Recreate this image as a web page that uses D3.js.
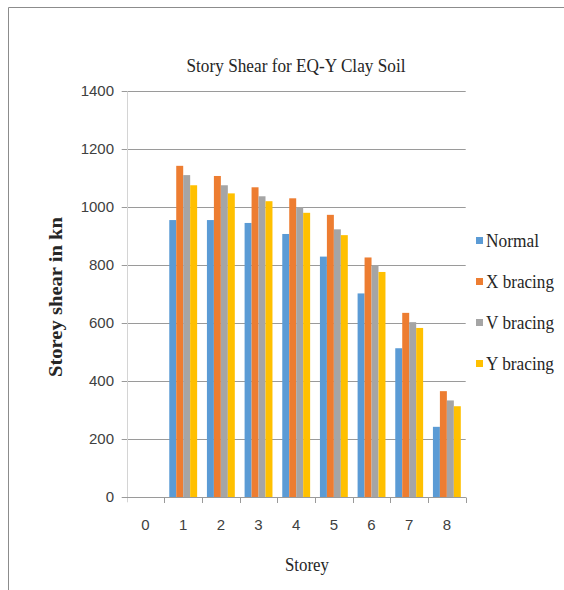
<!DOCTYPE html>
<html>
<head>
<meta charset="utf-8">
<script src="https://cdn.jsdelivr.net/npm/d3@7"></script>
<style>
  html, body { margin: 0; padding: 0; background: #fff; }
  svg { display: block; }
</style>
</head>
<body>
<svg id="chart" width="564" height="590"></svg>
<script>
// Storey shear (kN) per storey for each bracing type, EQ-Y on clay soil
const storeys = ["0", "1", "2", "3", "4", "5", "6", "7", "8"];
const seriesNames = ["Normal", "X bracing", "V bracing", "Y bracing"];
const normal   = [null, 956, 956, 946, 908, 830, 703, 514, 243];
const xBracing = [null, 1143, 1108, 1069, 1031, 974, 827, 636, 366];
const vBracing = [null, 1111, 1076, 1038, 1001, 924, 800, 604, 334];
const yBracing = [null, 1076, 1048, 1021, 981, 904, 777, 584, 314];
const yTicks = [0, 200, 400, 600, 800, 1000, 1200, 1400];
const colors = ["#5B9BD5", "#ED7D31", "#A5A5A5", "#FFC000"];

const seriesValues = [normal, xBracing, vBracing, yBracing];

const svg = d3.select("#chart");
const W = 564, H = 590;
const plot = { left: 126.7, right: 465.7, top: 91.3, bottom: 497.3 };

// outer chart frame
svg.append("path")
  .attr("d", `M8.5,${H} V7.5 H${W}`)
  .attr("fill", "none").attr("stroke", "#8c8c8c").attr("stroke-width", 1);

const x = d3.scaleBand().domain(storeys).range([plot.left, plot.right]).paddingInner(0).paddingOuter(0);
const y = d3.scaleLinear().domain([0, 1400]).range([plot.bottom, plot.top]);
const groupPad = 0.13;
const xs = d3.scaleBand().domain(seriesNames)
  .range([x.bandwidth() * groupPad, x.bandwidth() * (1 - groupPad)]).padding(0);

// horizontal gridlines with outward ticks
svg.append("g").attr("class", "grid")
  .selectAll("line").data(yTicks).join("line")
  .attr("x1", plot.left - 5).attr("x2", plot.right)
  .attr("y1", d => Math.round(y(d)) + 0.5).attr("y2", d => Math.round(y(d)) + 0.5)
  .attr("stroke", "#9a9a9a").attr("stroke-width", 1);

// vertical axis line
svg.append("line")
  .attr("x1", Math.round(plot.left) + 0.5).attr("x2", Math.round(plot.left) + 0.5)
  .attr("y1", plot.top).attr("y2", plot.bottom + 5)
  .attr("stroke", "#d4d4d4").attr("stroke-width", 1);

// y tick labels
svg.append("g").selectAll("text").data(yTicks).join("text")
  .attr("x", 114).attr("y", d => y(d) + 5)
  .attr("text-anchor", "end")
  .attr("font-family", "'Liberation Sans Narrow', 'Liberation Sans', sans-serif")
  .attr("font-size", 15).attr("fill", "#404040")
  .text(d => d);

// bars
const groups = svg.append("g").selectAll("g").data(storeys).join("g")
  .attr("transform", d => `translate(${x(d)},0)`);
groups.selectAll("rect")
  .data((d, i) => seriesNames.map((s, k) => ({ s, k, v: seriesValues[k][i] })).filter(e => e.v != null))
  .join("rect")
  .attr("x", e => xs(e.s))
  .attr("width", xs.bandwidth())
  .attr("y", e => y(e.v))
  .attr("height", e => y(0) - y(e.v))
  .attr("fill", e => colors[e.k]);

// x axis baseline and category ticks
svg.append("line")
  .attr("x1", plot.left).attr("x2", plot.right)
  .attr("y1", Math.round(y(0)) + 0.5).attr("y2", Math.round(y(0)) + 0.5)
  .attr("stroke", "#9a9a9a");
const boundaries = storeys.map(d => x(d)).concat([plot.right]).slice(1);
svg.append("g").selectAll("line").data(boundaries).join("line")
  .attr("x1", d => Math.round(d) + 0.5).attr("x2", d => Math.round(d) + 0.5)
  .attr("y1", Math.round(y(0)) + 0.5).attr("y2", Math.round(y(0)) + 6)
  .attr("stroke", "#9a9a9a");

// x tick labels
svg.append("g").selectAll("text").data(storeys).join("text")
  .attr("x", d => x(d) + x.bandwidth() / 2).attr("y", 530)
  .attr("text-anchor", "middle")
  .attr("font-family", "'Liberation Sans Narrow', 'Liberation Sans', sans-serif")
  .attr("font-size", 15).attr("fill", "#404040")
  .text(d => d);

// title
svg.append("text")
  .attr("x", 296).attr("y", 72).attr("text-anchor", "middle")
  .attr("font-family", "'Liberation Serif', serif").attr("font-size", 19)
  .attr("textLength", 219).attr("lengthAdjust", "spacingAndGlyphs")
  .attr("fill", "#262626")
  .text("Story Shear for EQ-Y Clay Soil");

// axis titles
svg.append("text")
  .attr("transform", "translate(62,297) rotate(-90)")
  .attr("text-anchor", "middle")
  .attr("font-family", "'Liberation Serif', serif").attr("font-size", 19).attr("font-weight", "bold")
  .attr("textLength", 160).attr("lengthAdjust", "spacingAndGlyphs")
  .attr("fill", "#262626")
  .text("Storey shear in kn");

svg.append("text")
  .attr("x", 307).attr("y", 571).attr("text-anchor", "middle")
  .attr("font-family", "'Liberation Serif', serif").attr("font-size", 19)
  .attr("textLength", 44).attr("lengthAdjust", "spacingAndGlyphs")
  .attr("fill", "#262626")
  .text("Storey");

// legend
const legendWidths = [53, 68, 68, 68];
const legend = svg.append("g").selectAll("g").data(seriesNames).join("g")
  .attr("transform", (d, i) => `translate(476,${241 + i * 41})`);
legend.append("rect")
  .attr("x", 0).attr("y", -4).attr("width", 7).attr("height", 7)
  .attr("fill", (d, i) => colors[i]);
legend.append("text")
  .attr("x", 10).attr("y", 6)
  .attr("font-family", "'Liberation Serif', serif").attr("font-size", 19)
  .attr("textLength", (d, i) => legendWidths[i]).attr("lengthAdjust", "spacingAndGlyphs")
  .attr("fill", "#262626")
  .text(d => d);
</script>
</body>
</html>
